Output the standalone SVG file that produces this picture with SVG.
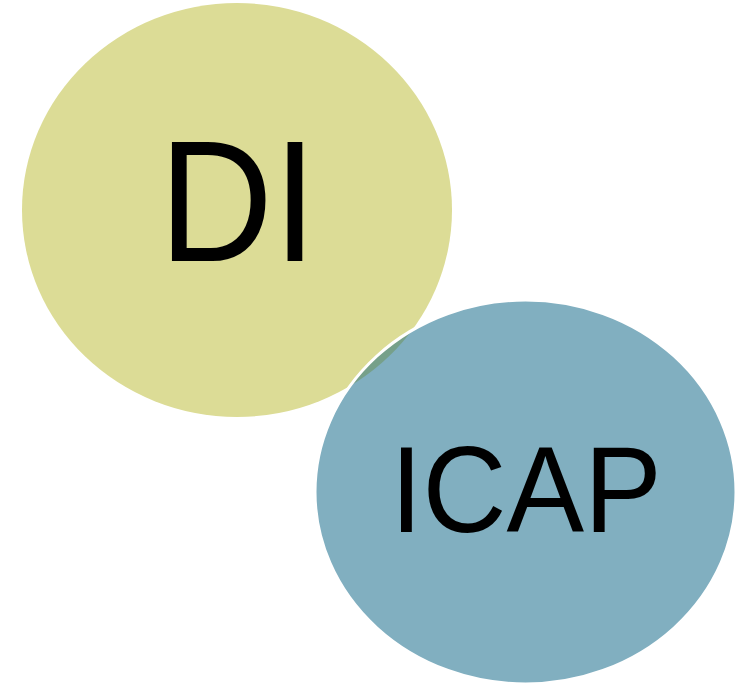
<svg xmlns="http://www.w3.org/2000/svg" width="746" height="685" viewBox="0 0 746 685">
<style>
.lbl{font-family:"Liberation Sans",Arial,sans-serif;fill:#000;text-anchor:middle}
</style>
<defs>
<clipPath id="diClip"><ellipse cx="237" cy="210" rx="215" ry="207"/></clipPath>
</defs>
<rect width="746" height="685" fill="#fff"/>
<g id="node-di">
<ellipse cx="237" cy="210" rx="215" ry="207" fill="#dcdc96"/>
<text class="lbl" transform="translate(238,261) scale(0.913,1)" x="0" y="0" font-size="173">DI</text>
</g>
<g id="node-icap">
<ellipse cx="525.5" cy="492" rx="210.5" ry="192" fill="#81afc0"/>
<ellipse cx="525.5" cy="492" rx="210.5" ry="192" fill="#76a08a" clip-path="url(#diClip)"/>
<ellipse cx="525.5" cy="492" rx="210.5" ry="192" fill="none" stroke="#fff" stroke-width="3"/>
<text class="lbl" transform="translate(526,532) scale(0.946,1)" x="0" y="0" font-size="123">ICAP</text>
</g>
<g id="connectors"/>
</svg>
